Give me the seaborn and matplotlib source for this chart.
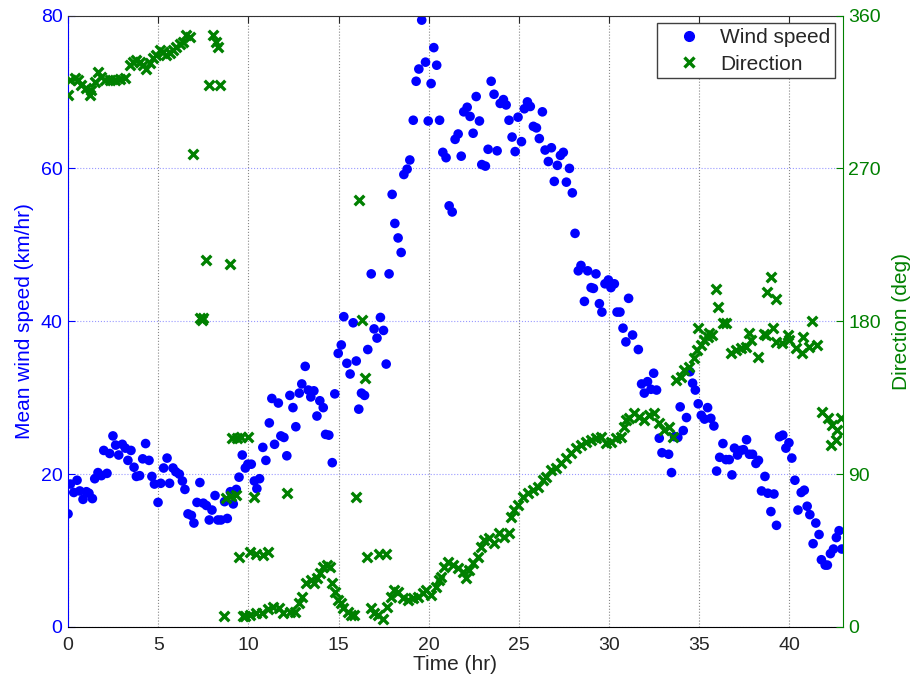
import numpy as np
import pandas as pd
import matplotlib
matplotlib.use('Agg')
import matplotlib.pyplot as plt
from matplotlib.lines import Line2D
import seaborn as sns

sns.set_style('white')
plt.rcParams['font.family'] = ['Liberation Sans', 'DejaVu Sans']

# wind speed readings (time in hr, speed in km/hr)
time_speed = [0.0, 0.13, 0.32, 0.5, 0.65, 0.83, 1.02, 1.16, 1.35, 1.48, 1.66, 1.85, 1.98, 2.16, 2.31,
              2.49, 2.64, 2.81, 3.01, 3.18, 3.32, 3.49, 3.66, 3.79, 3.97, 4.14, 4.3, 4.49, 4.65, 4.79,
              4.99, 5.14, 5.3, 5.49, 5.63, 5.82, 5.98, 6.17, 6.34, 6.48, 6.65, 6.84, 6.98, 7.15, 7.31,
              7.5, 7.67, 7.83, 7.98, 8.15, 8.31, 8.48, 8.68, 8.83, 9.0, 9.16, 9.33, 9.48, 9.66, 9.83,
              9.97, 10.16, 10.33, 10.47, 10.62, 10.8, 10.97, 11.16, 11.3, 11.45, 11.66, 11.8, 11.97, 12.13, 12.3,
              12.47, 12.63, 12.82, 12.96, 13.15, 13.32, 13.46, 13.63, 13.8, 13.96, 14.15, 14.28, 14.46, 14.65, 14.79,
              14.98, 15.15, 15.29, 15.46, 15.64, 15.81, 15.98, 16.12, 16.27, 16.44, 16.62, 16.81, 16.97, 17.13, 17.32,
              17.49, 17.64, 17.8, 17.97, 18.12, 18.3, 18.47, 18.62, 18.8, 18.95, 19.14, 19.3, 19.45, 19.61, 19.82,
              19.97, 20.13, 20.28, 20.44, 20.6, 20.78, 20.96, 21.13, 21.3, 21.46, 21.63, 21.8, 21.94, 22.13, 22.29,
              22.46, 22.63, 22.81, 22.94, 23.14, 23.29, 23.46, 23.62, 23.79, 23.96, 24.14, 24.29, 24.45, 24.62, 24.79,
              24.95, 25.14, 25.3, 25.47, 25.63, 25.8, 25.97, 26.13, 26.3, 26.45, 26.63, 26.8, 26.96, 27.13, 27.3,
              27.46, 27.63, 27.8, 27.96, 28.11, 28.29, 28.44, 28.63, 28.81, 29.0, 29.13, 29.27, 29.46, 29.6, 29.77,
              29.96, 30.1, 30.29, 30.44, 30.6, 30.77, 30.93, 31.08, 31.3, 31.62, 31.8, 31.95, 32.13, 32.32, 32.47,
              32.63, 32.78, 32.93, 33.3, 33.46, 33.63, 33.81, 33.94, 34.11, 34.29, 34.48, 34.63, 34.78, 34.94, 35.11,
              35.29, 35.46, 35.64, 35.81, 35.96, 36.13, 36.31, 36.48, 36.66, 36.81, 36.95, 37.12, 37.29, 37.45, 37.62,
              37.78, 37.95, 38.14, 38.28, 38.45, 38.64, 38.8, 38.97, 39.14, 39.28, 39.45, 39.63, 39.8, 39.97, 40.13,
              40.3, 40.47, 40.65, 40.82, 40.98, 41.13, 41.31, 41.46, 41.64, 41.77, 41.98, 42.1, 42.27, 42.44, 42.6,
              42.75, 42.9]
wind_speed = [14.8, 18.7, 17.6, 19.2, 17.8, 16.7, 17.7, 17.5, 16.8, 19.4, 20.2, 19.8, 23.1, 20.1, 22.7,
              25.0, 23.8, 22.5, 23.9, 23.4, 21.8, 23.1, 20.9, 19.7, 19.8, 22.0, 24.0, 21.8, 19.7, 18.7,
              16.3, 18.8, 20.8, 22.1, 18.8, 20.8, 20.3, 20.0, 19.1, 18.0, 14.8, 14.6, 13.6, 16.3, 18.9,
              16.2, 15.9, 14.0, 15.3, 17.2, 14.0, 14.0, 16.4, 14.2, 17.7, 16.1, 18.0, 19.6, 22.5, 20.8,
              21.3, 21.3, 19.1, 18.1, 19.4, 23.5, 21.8, 26.7, 29.9, 23.9, 29.3, 25.0, 24.8, 22.4, 30.3,
              28.7, 26.2, 30.6, 31.8, 34.1, 31.0, 30.1, 30.9, 27.6, 29.6, 28.7, 25.2, 25.1, 21.5, 30.5,
              35.8, 36.9, 40.6, 34.5, 33.1, 39.8, 34.8, 28.5, 30.6, 30.3, 36.3, 46.2, 39.0, 37.8, 40.5,
              38.8, 34.4, 46.2, 56.6, 52.8, 50.9, 49.0, 59.2, 59.9, 61.1, 66.3, 71.4, 73.0, 79.4, 73.9,
              66.2, 71.1, 75.8, 73.5, 66.3, 62.1, 61.4, 55.1, 54.3, 63.8, 64.5, 61.6, 67.4, 68.0, 66.8,
              64.6, 69.4, 66.2, 60.5, 60.3, 62.5, 71.4, 69.7, 62.3, 68.5, 69.0, 68.3, 66.3, 64.1, 62.2,
              66.7, 63.5, 67.8, 68.7, 68.1, 65.5, 65.3, 63.9, 67.4, 62.4, 60.9, 62.7, 58.3, 60.4, 61.7,
              62.1, 58.2, 60.0, 56.8, 51.5, 46.6, 47.3, 42.6, 46.6, 44.4, 44.3, 46.2, 42.3, 41.2, 44.9,
              45.4, 44.4, 44.9, 41.2, 41.2, 39.1, 37.3, 43.0, 38.2, 36.3, 31.8, 30.6, 32.1, 31.1, 33.2,
              31.0, 24.7, 22.8, 22.6, 20.2, 24.9, 24.8, 28.8, 25.7, 27.4, 33.4, 31.9, 31.0, 29.2, 27.7,
              27.2, 28.7, 27.3, 26.3, 20.4, 22.2, 24.0, 21.9, 21.9, 19.9, 23.4, 22.5, 23.1, 23.2, 24.5,
              22.6, 22.6, 21.4, 21.8, 17.8, 19.7, 17.5, 15.1, 17.4, 13.3, 24.9, 25.1, 23.4, 24.1, 22.1,
              19.2, 15.3, 17.6, 17.9, 15.8, 14.7, 10.9, 13.6, 12.1, 8.8, 8.1, 8.1, 9.6, 10.2, 11.7,
              12.6, 10.2]

# wind direction readings (time in hr, direction in deg)
time_dir = [0.0, 0.1, 0.37, 0.55, 0.74, 1.02, 1.2, 1.3, 1.48, 1.66, 1.85, 2.03, 2.31, 2.59, 2.86,
            3.14, 3.42, 3.6, 3.79, 3.97, 4.16, 4.34, 4.53, 4.71, 4.9, 5.08, 5.26, 5.45, 5.63, 5.82,
            6.0, 6.19, 6.37, 6.56, 6.74, 6.93, 7.3, 7.4, 7.48, 7.63, 7.8, 8.03, 8.22, 8.3, 8.44,
            8.64, 8.77, 9.0, 9.05, 9.1, 9.33, 9.38, 9.47, 9.6, 9.7, 9.8, 9.97, 10.07, 10.1, 10.3,
            10.4, 10.44, 10.77, 10.8, 11.08, 11.1, 11.36, 11.69, 11.91, 12.15, 12.28, 12.56, 12.8, 12.99, 13.21,
            13.49, 13.61, 13.8, 13.95, 14.13, 14.35, 14.5, 14.65, 14.78, 14.96, 15.15, 15.27, 15.51, 15.7, 15.88,
            15.94, 16.12, 16.31, 16.44, 16.59, 16.81, 16.94, 17.17, 17.23, 17.45, 17.64, 17.7, 17.92, 18.1, 18.28,
            18.56, 18.84, 19.11, 19.39, 19.67, 19.86, 20.13, 20.41, 20.59, 20.69, 20.87, 21.05, 21.33, 21.61, 21.88,
            22.07, 22.25, 22.44, 22.71, 22.9, 23.09, 23.36, 23.64, 23.92, 24.19, 24.47, 24.56, 24.75, 24.93, 25.21,
            25.48, 25.76, 26.04, 26.32, 26.5, 26.78, 27.06, 27.33, 27.61, 27.89, 28.17, 28.44, 28.72, 29.0, 29.27,
            29.55, 29.83, 30.1, 30.38, 30.66, 30.84, 30.94, 31.12, 31.4, 31.67, 31.95, 32.23, 32.51, 32.78, 33.06,
            33.34, 33.52, 33.7, 33.98, 34.17, 34.44, 34.72, 34.9, 34.95, 35.09, 35.27, 35.51, 35.55, 35.73, 35.92,
            36.06, 36.29, 36.47, 36.75, 37.03, 37.31, 37.58, 37.76, 37.86, 38.23, 38.59, 38.69, 38.75, 38.97, 39.07,
            39.25, 39.28, 39.61, 39.9, 39.98, 40.35, 40.72, 40.73, 41.09, 41.27, 41.55, 41.83, 42.11, 42.29, 42.38,
            42.57, 42.66, 42.85]
direction = [313.0, 322.0, 323.5, 322.0, 319.0, 317.6, 313.1, 316.0, 321.0, 326.8, 323.9, 322.0, 322.0, 322.0, 322.5,
             323.0, 330.8, 332.7, 333.7, 332.7, 330.8, 328.8, 331.8, 334.7, 336.7, 339.6, 338.6, 336.7, 337.7, 339.6,
             341.6, 343.5, 344.5, 348.4, 347.4, 278.2, 181.7, 181.0, 181.7, 216.0, 319.0, 348.4, 344.5, 341.6, 319.0,
             6.5, 75.7, 213.5, 77.1, 111.0, 77.7, 111.0, 41.4, 112.0, 6.5, 6.5, 111.7, 44.3, 7.1, 76.3,
             43.0, 8.0, 8.0, 42.4, 44.3, 10.4, 12.0, 11.0, 8.0, 78.7, 9.0, 9.0, 13.9, 17.9, 25.7,
             27.7, 25.7, 28.7, 32.0, 35.1, 36.5, 35.5, 25.7, 20.8, 15.9, 13.9, 11.0, 9.0, 7.1, 7.1,
             76.7, 251.3, 180.7, 146.4, 41.4, 11.0, 8.0, 7.1, 43.0, 4.5, 43.0, 12.0, 17.9, 21.8, 20.8,
             16.9, 15.9, 16.9, 17.9, 19.8, 21.8, 18.8, 23.7, 27.7, 29.6, 35.5, 38.4, 36.5, 34.5, 32.5,
             28.7, 33.5, 37.5, 41.4, 47.3, 51.2, 52.2, 49.3, 55.1, 53.1, 55.1, 64.9, 68.9, 71.8, 76.7,
             78.7, 80.6, 82.6, 86.5, 88.5, 92.4, 93.4, 96.3, 99.3, 102.2, 105.2, 107.1, 109.1, 110.1, 111.1,
             112.0, 108.1, 109.1, 111.1, 112.0, 117.9, 121.8, 122.8, 125.8, 123.4, 121.8, 124.8, 125.8, 119.9, 116.0,
             117.9, 112.0, 145.4, 147.3, 151.3, 153.2, 158.1, 163.0, 175.8, 166.0, 169.0, 170.9, 172.9, 171.9, 198.8,
             188.5, 179.1, 179.1, 161.1, 163.0, 164.0, 165.0, 172.9, 169.0, 159.1, 172.5, 171.9, 197.4, 205.8, 175.8,
             167.9, 193.1, 167.0, 171.9, 169.0, 164.0, 161.1, 170.9, 165.0, 180.3, 166.0, 126.7, 122.8, 107.1, 118.9,
             110.1, 116.0, 122.8]

speed_df = pd.DataFrame({'time': time_speed, 'speed': wind_speed})
dir_df = pd.DataFrame({'time': time_dir, 'direction': direction})

blue = '#0000ff'
green = '#008000'

fig = plt.figure(figsize=(9.12, 6.81), dpi=100)
ax1 = fig.add_axes([0.0746, 0.0793, 0.8494, 0.8979])
ax2 = ax1.twinx()

sns.scatterplot(data=speed_df, x='time', y='speed', ax=ax1, color=blue,
                s=48, edgecolor='none', legend=False)
sns.scatterplot(data=dir_df, x='time', y='direction', ax=ax2, color=green,
                marker='x', s=48, linewidth=2.4, legend=False)

ax1.set_xlim(0, 42.95)
ax1.set_ylim(0, 80)
ax2.set_ylim(0, 360)
ax1.set_xticks(range(0, 45, 5))
ax1.set_yticks(range(0, 81, 20))
ax2.set_yticks(range(0, 361, 90))

# matlab style dotted grid
ax1.grid(True, axis='x', linestyle=':', color='#888888', linewidth=0.8)
ax1.grid(True, axis='y', linestyle=':', color='#9999ff', linewidth=0.8)

ax1.set_xlabel('Time (hr)', fontsize=15, labelpad=1)
ax1.set_ylabel('Mean wind speed (km/hr)', fontsize=15, color=blue, labelpad=5)
ax2.set_ylabel('Direction (deg)', fontsize=15, color=green, labelpad=8)

ax1.tick_params(axis='x', direction='in', length=5, top=True, labelsize=14, pad=7)
ax1.tick_params(axis='y', direction='in', length=5, colors=blue, labelsize=14, pad=4)
ax2.tick_params(axis='y', direction='in', length=5, colors=green, labelsize=14, pad=4)

for side in ['left', 'top', 'bottom']:
    ax2.spines[side].set_visible(False)
ax1.spines['right'].set_visible(False)
ax1.spines['left'].set_color(blue)
ax2.spines['right'].set_color(green)
ax1.spines['top'].set_color('#333333')
ax1.spines['bottom'].set_color('black')

handles = [Line2D([], [], marker='o', linestyle='none', color=blue, markersize=7),
           Line2D([], [], marker='x', linestyle='none', color=green, markersize=7, markeredgewidth=2.4)]
leg = ax2.legend(handles, ['Wind speed', 'Direction'], loc='upper right', fontsize=15,
                 fancybox=False, framealpha=1, edgecolor='#404040', borderaxespad=0.37,
                 handlelength=2.6, handletextpad=0.2, borderpad=0.22, labelspacing=0.38)
leg.get_frame().set_linewidth(1.0)

fig.savefig('out.png', dpi=100)
